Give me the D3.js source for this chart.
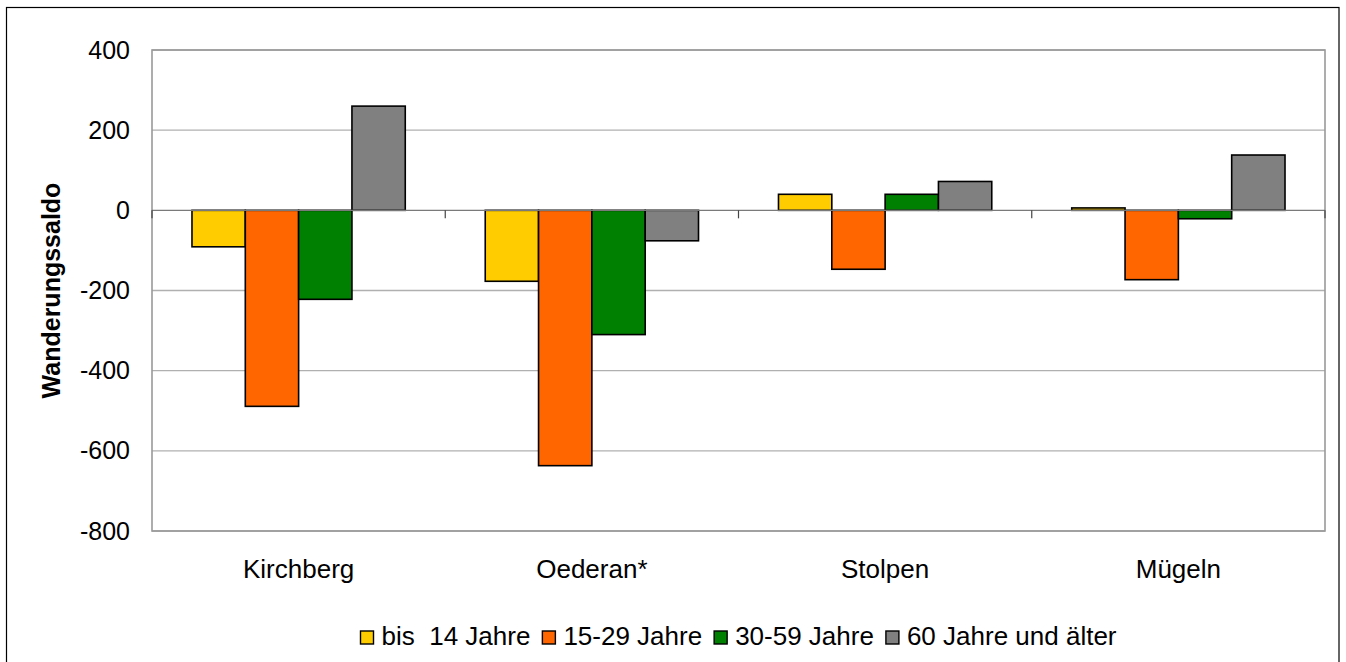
<!DOCTYPE html>
<html>
<head>
<meta charset="utf-8">
<script src="https://cdn.jsdelivr.net/npm/d3@7"></script>
<style>
  html, body { margin: 0; padding: 0; background: #fff; }
  svg { display: block; font-family: "Liberation Sans", Arial, sans-serif; }
</style>
</head>
<body>
<svg id="chart" width="1346" height="662"></svg>
<script>
// Wanderungssaldo nach Altersgruppen
const places = ["Kirchberg", "Oederan*", "Stolpen", "Mügeln"];
const ageGroups = ["bis  14 Jahre", "15-29 Jahre", "30-59 Jahre", "60 Jahre und älter"];
const groupColors = ["#FFCC00", "#FF6600", "#008000", "#808080"];
const bis14 = [-91, -177, 40, 6];
const age15to29 = [-489, -637, -147, -173];
const age30to59 = [-222, -310, 40, -21];
const age60plus = [260, -76, 72, 138];
const yTicks = [400, 200, 0, -200, -400, -600, -800];
const yTitle = "Wanderungssaldo";

const seriesValues = [bis14, age15to29, age30to59, age60plus];

const svg = d3.select("#chart");
const W = 1346, H = 662;
const plot = { left: 152, right: 1325, top: 50, bottom: 531 };

// outer frame
svg.append("rect")
  .attr("x", 6.5).attr("y", 7.5)
  .attr("width", 1339 - 6.5).attr("height", H + 10)
  .attr("fill", "#fff").attr("stroke", "#000").attr("stroke-width", 1.2);

const x = d3.scaleBand().domain(places).range([plot.left, plot.right]).paddingInner(0).paddingOuter(0);
const bandPad = 1.5 / (4 + 1.5);
const xInner = d3.scaleBand().domain(ageGroups)
  .range([x.bandwidth() * bandPad / 2, x.bandwidth() * (1 - bandPad / 2)]).padding(0);
const y = d3.scaleLinear().domain([-800, 400]).range([plot.bottom, plot.top]);

// gridlines
svg.append("g")
  .selectAll("line")
  .data(yTicks.filter(d => d !== 0))
  .join("line")
  .attr("x1", plot.left).attr("x2", plot.right)
  .attr("y1", d => y(d)).attr("y2", d => y(d))
  .attr("stroke", "#b0b0b0").attr("stroke-width", 1.3);

// plot frame
svg.append("rect")
  .attr("x", plot.left).attr("y", plot.top)
  .attr("width", plot.right - plot.left).attr("height", plot.bottom - plot.top)
  .attr("fill", "none").attr("stroke", "#999").attr("stroke-width", 1.6);

// y axis labels (plain hyphen as minus sign)
const yAxis = d3.axisLeft(y).tickValues(yTicks).tickSize(0).tickPadding(22)
  .tickFormat(d => String(d));
const yG = svg.append("g").attr("transform", `translate(${plot.left},0)`).call(yAxis);
yG.select(".domain").remove();
yG.selectAll("text")
  .attr("font-size", 25).attr("fill", "#000")
  .attr("font-family", "'Liberation Sans', Arial, sans-serif");

// y title
svg.append("text")
  .attr("transform", `translate(60,${(plot.top + plot.bottom) / 2}) rotate(-90)`)
  .attr("text-anchor", "middle")
  .attr("font-size", 25).attr("font-weight", "bold")
  .text(yTitle);

// bars
const groups = svg.append("g").selectAll("g")
  .data(places)
  .join("g")
  .attr("transform", d => `translate(${x(d)},0)`);

groups.selectAll("rect")
  .data((p, i) => ageGroups.map((a, k) => ({ age: a, k, v: seriesValues[k][i] })))
  .join("rect")
  .attr("x", d => xInner(d.age))
  .attr("width", xInner.bandwidth())
  .attr("y", d => y(Math.max(0, d.v)))
  .attr("height", d => Math.abs(y(d.v) - y(0)))
  .attr("fill", d => groupColors[d.k])
  .attr("stroke", "#000").attr("stroke-width", 1.6);

// zero axis line with category ticks
svg.append("line")
  .attr("x1", plot.left).attr("x2", plot.right)
  .attr("y1", y(0)).attr("y2", y(0))
  .attr("stroke", "#7a7a7a").attr("stroke-width", 1.3);
const boundaries = places.map(p => x(p)).concat([plot.right]);
svg.append("g").selectAll("line")
  .data(boundaries)
  .join("line")
  .attr("x1", d => d).attr("x2", d => d)
  .attr("y1", y(0)).attr("y2", y(0) + 8)
  .attr("stroke", "#444").attr("stroke-width", 1.2);

// category labels
svg.append("g").selectAll("text")
  .data(places)
  .join("text")
  .attr("x", d => x(d) + x.bandwidth() / 2)
  .attr("y", 578)
  .attr("text-anchor", "middle")
  .attr("font-size", 26)
  .text(d => d);

// legend
const legend = svg.append("g");
const items = legend.selectAll("g").data(ageGroups).join("g");
items.append("rect")
  .attr("width", 13).attr("height", 13)
  .attr("y", -14)
  .attr("fill", (d, i) => groupColors[i])
  .attr("stroke", "#000").attr("stroke-width", 1.4);
items.append("text")
  .attr("x", 21).attr("y", 0)
  .attr("font-size", 26)
  .style("white-space", "pre")
  .attr("xml:space", "preserve")
  .text(d => d);
let cursor = 0;
const offsets = [];
items.each(function () {
  offsets.push(cursor);
  const tw = this.querySelector("text").getComputedTextLength();
  cursor += 21 + tw + 12;
});
const total = cursor - 12;
items.attr("transform", (d, i) => `translate(${offsets[i]},0)`);
const cx = (plot.left + plot.right) / 2;
legend.attr("transform", `translate(${cx - total / 2},645)`);
</script>
</body>
</html>
